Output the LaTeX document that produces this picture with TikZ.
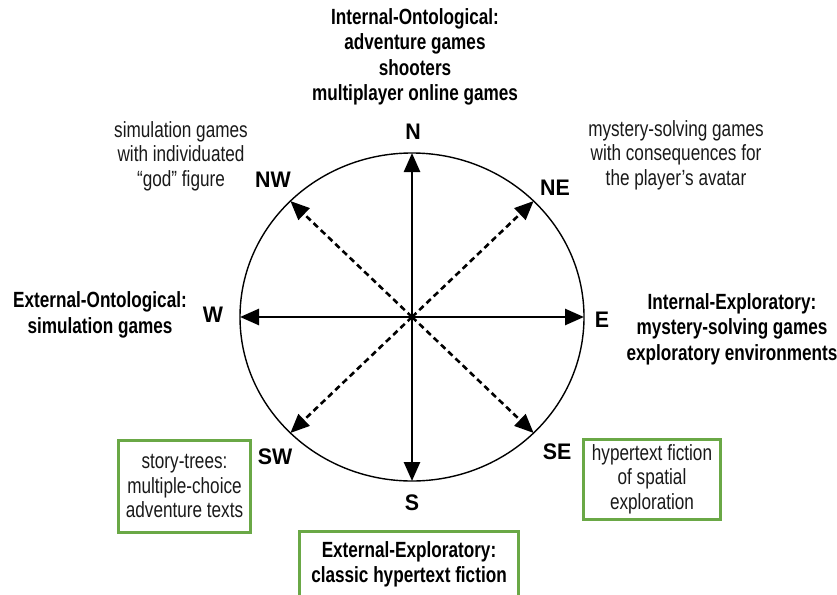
\documentclass[tikz,border=0pt]{standalone}
\usepackage{fontspec}
\setmainfont[FakeStretch=0.78]{Liberation Sans}
\newfontfamily\dirfont[FakeStretch=0.95]{Liberation Sans}
\usepackage{tikz}
\usetikzlibrary{arrows.meta,positioning}
\definecolor{boxgreen}{RGB}{106,168,70}

\begin{document}
\begin{tikzpicture}[x=1pt,y=-1pt,
   every node/.style={align=center,inner sep=0pt},
   dir/.style={font=\dirfont\bfseries\fontsize{22.5}{25}\selectfont},
   genre/.style={font=\fontsize{22}{24.5}\selectfont,text=black!90},
   maingenre/.style={font=\bfseries\fontsize{22}{25.5}\selectfont},
   greenbox/.style={draw=boxgreen,line width=3pt},
   axis/.style={line width=2.6pt,-{Triangle[length=19pt,width=16pt]}},
   diag/.style={axis,dash pattern=on 6pt off 4pt}]
   \useasboundingbox (0,0) rectangle (837,594);
   \coordinate (o) at (412,317);
   \draw[line width=1.4pt] (o) ellipse [x radius=172pt,y radius=164pt];
   % tips on the rim
   \foreach \d/\a in {N/90,NE/45,E/0,SE/-45,S/-90,SW/-135,W/180,NW/135}
      \path (o) ++(\a:172pt and 164pt) coordinate (tip\d);
   \foreach \d in {N,E,S,W}
      \draw[axis] (o) -- (tip\d);
   \foreach \d in {NE,SE,SW,NW}
      \draw[diag] (o) -- (tip\d);
   % compass letters
   \foreach \d/\x/\y in {N/413/132,NE/555/188,E/602/320,SE/557/452,
                         S/412/503,SW/275/457,W/213/315,NW/273/180}
      \node[dir] (lab\d) at (\x,\y) {\d};
   % genres
   \node[maingenre] (intont) at (415,57)
      {Internal-Ontological:\\adventure games\\shooters\\multiplayer online games};
   \node[maingenre] (extont) at (100,315) {External-Ontological:\\simulation games};
   \node[maingenre] (intexp) at (732,329)
      {Internal-Exploratory:\\mystery-solving games\\exploratory environments};
   \node[genre] (simgod) at (181,156) {simulation games\\with individuated\\``god'' figure};
   \node[genre] (mystav) at (676,155)
      {mystery-solving games\\with consequences for\\the player's avatar};
   \node[genre,greenbox,minimum width=132pt,minimum height=92pt] (trees) at (184.5,486)
      {story-trees:\\multiple-choice\\adventure texts};
   \node[genre,greenbox,minimum width=137pt,minimum height=80pt] (spatial) at (652,479)
      {hypertext fiction\\of spatial\\exploration};
   \node[greenbox,minimum width=219pt,minimum height=80pt,anchor=north] (sbox) at (409,529.5) {};
   \node[maingenre] (extexp) at (409,564.5) {External-Exploratory:\\classic hypertext fiction};
\end{tikzpicture}
\end{document}
